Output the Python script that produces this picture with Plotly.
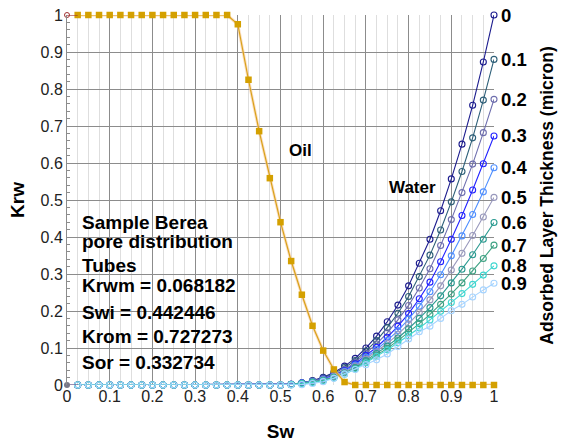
import plotly.graph_objects as go

sw = [0.0, 0.025, 0.05, 0.075, 0.1, 0.125, 0.15, 0.175, 0.2, 0.225, 0.25, 0.275, 0.3, 0.325,
      0.35, 0.375, 0.4, 0.425, 0.45, 0.475, 0.5, 0.525, 0.55, 0.575, 0.6, 0.625, 0.65, 0.675,
      0.7, 0.725, 0.75, 0.775, 0.8, 0.825, 0.85, 0.875, 0.9, 0.925, 0.95, 0.975, 1.0]

kro = [1, 1, 1, 1, 1, 1, 1, 1, 1, 1, 1, 1, 1, 1, 1, 1, 0.975, 0.825, 0.686, 0.559, 0.44,
       0.335, 0.244, 0.16, 0.093, 0.042, 0.008, 0, 0, 0, 0, 0, 0, 0, 0, 0, 0, 0, 0, 0, 0]

Z = [0, 0, 0, 0, 0, 0, 0, 0, 0, 0, 0, 0, 0, 0, 0, 0, 0, 0, 0, 0]
krw_00 = Z + [0, 0.002, 0.006, 0.012, 0.021, 0.034, 0.051, 0.072, 0.100, 0.132, 0.171, 0.216, 0.268, 0.329, 0.394, 0.471, 0.557, 0.651, 0.756, 0.873, 1.0]
krw_01 = Z + [0, 0.002, 0.006, 0.011, 0.019, 0.031, 0.047, 0.066, 0.092, 0.120, 0.155, 0.194, 0.239, 0.293, 0.351, 0.419, 0.495, 0.577, 0.668, 0.770, 0.880]
krw_02 = Z + [0, 0.002, 0.005, 0.010, 0.017, 0.028, 0.042, 0.061, 0.086, 0.111, 0.141, 0.176, 0.215, 0.262, 0.314, 0.377, 0.447, 0.520, 0.597, 0.682, 0.772]
krw_03 = Z + [0, 0.002, 0.005, 0.009, 0.016, 0.026, 0.039, 0.057, 0.080, 0.102, 0.129, 0.159, 0.193, 0.233, 0.278, 0.333, 0.394, 0.458, 0.527, 0.598, 0.673]
krw_04 = Z + [0, 0.002, 0.005, 0.009, 0.015, 0.024, 0.037, 0.054, 0.075, 0.096, 0.120, 0.147, 0.178, 0.213, 0.252, 0.298, 0.349, 0.403, 0.461, 0.522, 0.587]
krw_05 = Z + [0, 0.002, 0.004, 0.008, 0.014, 0.023, 0.035, 0.050, 0.070, 0.090, 0.112, 0.137, 0.165, 0.196, 0.230, 0.268, 0.311, 0.356, 0.404, 0.454, 0.507]
krw_06 = Z + [0, 0.001, 0.004, 0.008, 0.013, 0.021, 0.032, 0.047, 0.066, 0.085, 0.105, 0.127, 0.152, 0.180, 0.209, 0.241, 0.276, 0.313, 0.352, 0.394, 0.439]
krw_07 = Z + [0, 0.001, 0.004, 0.007, 0.012, 0.020, 0.031, 0.045, 0.063, 0.081, 0.099, 0.120, 0.142, 0.166, 0.191, 0.218, 0.246, 0.276, 0.308, 0.342, 0.378]
krw_08 = Z + [0, 0.001, 0.003, 0.006, 0.011, 0.019, 0.029, 0.043, 0.060, 0.077, 0.095, 0.114, 0.133, 0.154, 0.176, 0.199, 0.223, 0.247, 0.272, 0.297, 0.322]
krw_09 = Z + [0, 0.000, 0.001, 0.004, 0.009, 0.018, 0.030, 0.042, 0.055, 0.068, 0.084, 0.104, 0.124, 0.144, 0.159, 0.180, 0.201, 0.218, 0.238, 0.257, 0.275]

thickness_labels = ["0", "0.1", "0.2", "0.3", "0.4", "0.5", "0.6", "0.7", "0.8", "0.9"]
water_series = [krw_00, krw_01, krw_02, krw_03, krw_04, krw_05, krw_06, krw_07, krw_08, krw_09]
water_colors = ["#1c1c8e", "#2d5f78", "#6e6eae", "#2222ff", "#4f8fff",
                "#9898bc", "#2a9a90", "#3ea283", "#3fd6d0", "#a6d4ff"]

info_lines = ["Sample Berea", "pore distribution", "Tubes", "Krwm = 0.068182",
              "Swi = 0.442446", "Krom = 0.727273", "Sor = 0.332734"]
info_y = [0.439, 0.389, 0.322, 0.268, 0.197, 0.130, 0.062]

FONT = "Liberation Sans, Arial, sans-serif"

fig = go.Figure()

for vals, col in zip(water_series, water_colors):
    fig.add_trace(go.Scatter(
        x=sw[1:], y=vals[1:], mode="lines+markers", cliponaxis=False,
        line=dict(color=col, width=1.1),
        marker=dict(symbol="circle-open", size=6, color=col, line=dict(width=1.1)),
        showlegend=False))

# first water point
fig.add_trace(go.Scatter(x=sw[0:2], y=krw_09[0:2], mode="lines", cliponaxis=False,
                         line=dict(color="#7a6a9a", width=1.5), showlegend=False))
fig.add_trace(go.Scatter(x=sw[0:1], y=krw_09[0:1], mode="markers", cliponaxis=False,
                         marker=dict(symbol="circle", size=6, color="#777788"), showlegend=False))

# oil halo + curve
fig.add_trace(go.Scatter(x=sw[1:], y=kro[1:], mode="lines", cliponaxis=False,
                         line=dict(color="rgba(248,200,150,0.6)", width=3), showlegend=False))
fig.add_trace(go.Scatter(
    x=sw[1:], y=kro[1:], mode="lines+markers", cliponaxis=False,
    line=dict(color="#d9a21a", width=1.2),
    marker=dict(symbol="square", size=6.5, color="#d4a000"),
    showlegend=False))
fig.add_trace(go.Scatter(x=sw[0:2], y=kro[0:2], mode="lines", cliponaxis=False,
                         line=dict(color="#a03030", width=1.2), showlegend=False))
fig.add_trace(go.Scatter(x=sw[0:1], y=kro[0:1], mode="markers", cliponaxis=False,
                         marker=dict(symbol="circle-open", size=5, color="#a03030"), showlegend=False))

ann = []
for lab, vals in zip(thickness_labels, water_series):
    ann.append(dict(x=1, y=vals[-1], xref="x", yref="y", text="<b>" + lab + "</b>",
                    showarrow=False, xanchor="left", yanchor="middle", xshift=5,
                    font=dict(family=FONT, size=18.5, color="black")))
for line, yy in zip(info_lines, info_y):
    ann.append(dict(x=0.03, y=yy, xref="x", yref="y", text="<b>" + line + "</b>",
                    showarrow=False, xanchor="left", yanchor="middle",
                    font=dict(family=FONT, size=19, color="black")))
ann.append(dict(x=0.546, y=0.635, xref="x", yref="y", text="<b>Oil</b>", showarrow=False,
                font=dict(family=FONT, size=17, color="black")))
ann.append(dict(x=0.81, y=0.535, xref="x", yref="y", text="<b>Water</b>", showarrow=False,
                font=dict(family=FONT, size=17, color="black")))
ann.append(dict(x=1.152, y=0.514, xref="paper", yref="paper",
                text="<b>Adsorbed Layer Thickness (micron)</b>", showarrow=False,
                textangle=-90, font=dict(family=FONT, size=17.5, color="black")))

fig.update_layout(
    width=561, height=443,
    margin=dict(l=67, r=67, t=15, b=58),
    paper_bgcolor="white", plot_bgcolor="white",
    font=dict(family=FONT, size=16, color="#222"),
    annotations=ann,
    xaxis=dict(range=[0, 1], dtick=0.1, tick0=0, showgrid=True, gridcolor="#8c8c8c",
               gridwidth=1, zeroline=False, showline=False, ticks="", automargin=False,
               title=dict(text="<b>Sw</b>", font=dict(size=19, color="black"), standoff=20),
               minor=dict(dtick=0.025, showgrid=True, gridcolor="#dedede", gridwidth=1)),
    yaxis=dict(range=[0, 1], dtick=0.1, tick0=0, showgrid=True, gridcolor="#8c8c8c",
               gridwidth=1, zeroline=False, showline=True, linecolor="#8c8c8c",
               ticks="", automargin=False,
               title=dict(text="<b>Krw</b>", font=dict(size=19, color="black"), standoff=10),
               minor=dict(dtick=0.02, ticks="inside", ticklen=3, tickcolor="#8c8c8c",
                          showgrid=False)),
)

fig.write_html("out.html", config={"displayModeBar": False},
               post_script="document.body.style.margin='0px';")
